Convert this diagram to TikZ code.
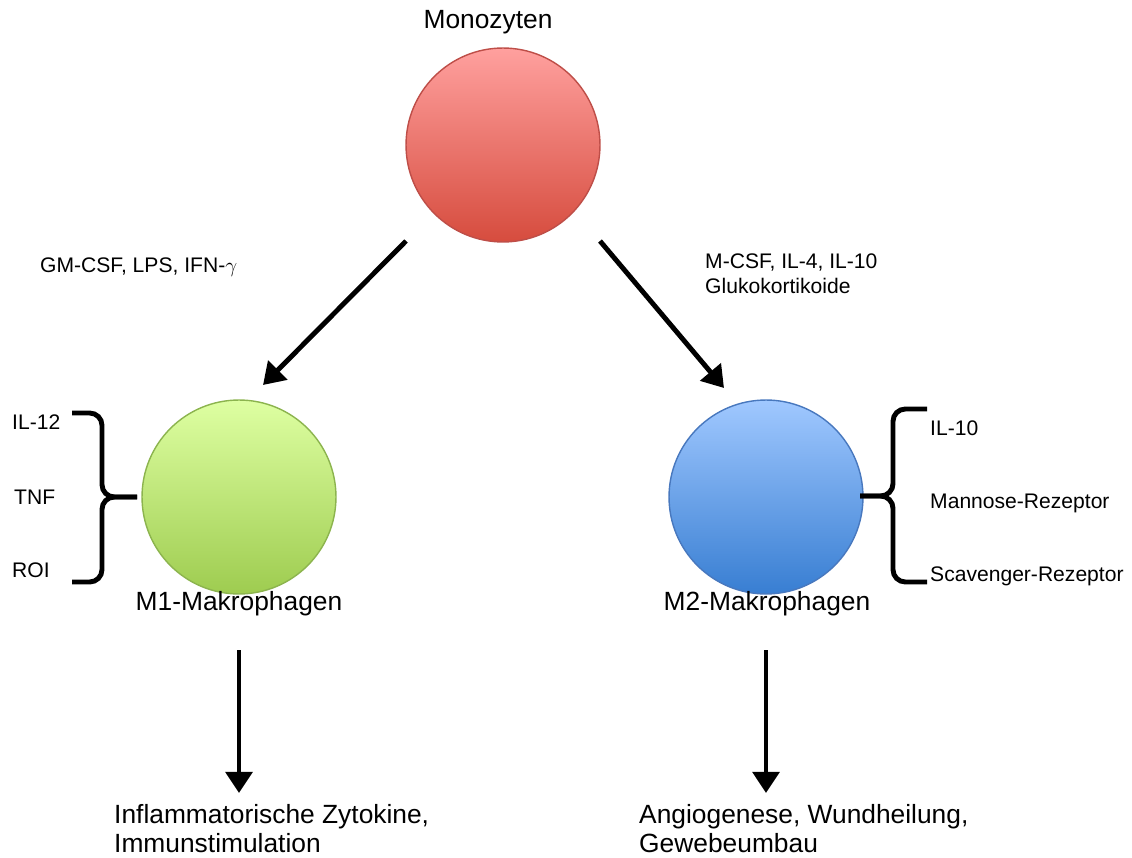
\documentclass[tikz,border=0pt]{standalone}
\usepackage{fontspec}
\setmainfont{Liberation Sans}
\usetikzlibrary{arrows.meta,positioning}
\definecolor{redtop}{RGB}{255,160,158}
\definecolor{redbot}{RGB}{214,76,62}
\definecolor{redline}{RGB}{190,78,72}
\definecolor{greentop}{RGB}{222,255,162}
\definecolor{greenbot}{RGB}{158,204,80}
\definecolor{greenline}{RGB}{140,180,78}
\definecolor{bluetop}{RGB}{160,200,255}
\definecolor{bluebot}{RGB}{56,126,210}
\definecolor{blueline}{RGB}{72,120,190}
\begin{document}
\begin{tikzpicture}[x=0.02cm,y=-0.02cm,
  cell/.style={circle,minimum size=3.88cm,inner sep=0pt,draw,line width=0.8pt},
  small/.style={font=\fontsize{12}{14.2}\selectfont,align=left},
  big/.style={font=\fontsize{15}{16.5}\selectfont,align=left},
  arr/.style={-{Triangle[length=12pt,width=15pt]},line width=2.8pt},
  brace/.style={line width=2.8pt,rounded corners=7pt}]
  \useasboundingbox (0,0) rectangle (1132,858);
  % Zellen
  \node [cell,draw=redline,top color=redtop,bottom color=redbot] (mono) at (503,145) {};
  \node [cell,draw=greenline,top color=greentop,bottom color=greenbot] (m1) at (239,497) {};
  \node [cell,draw=blueline,top color=bluetop,bottom color=bluebot] (m2) at (766,497) {};
  \node [big] (monotxt) at (488,22) {Monozyten};
  \node [big] (m1txt) at (239,604) {M1-Makrophagen};
  \node [big] (m2txt) at (767,604) {M2-Makrophagen};
  \node [small,anchor=west] (m1stim) at (34,267) {GM-CSF, LPS, IFN-$\gamma$};
  \node [small,anchor=west] (m2stim) at (699,274) {M-CSF, IL-4, IL-10\\Glukokortikoide};
  \node [small,anchor=west] (il12) at (6,422) {IL-12};
  \node [small,anchor=west] (tnf) at (8,497) {TNF};
  \node [small,anchor=west] (roi) at (6,570) {ROI};
  \node [small,anchor=west] (il10) at (924,428) {IL-10};
  \node [small,anchor=west] (mann) at (924,503) {Mannose-Rezeptor};
  \node [small,anchor=west] (scav) at (924,576) {Scavenger-Rezeptor};
  \node [big,anchor=west] (m1out) at (108,829) {Inflammatorische Zytokine,\\Immunstimulation};
  \node [big,anchor=west] (m2out) at (633,829) {Angiogenese, Wundheilung,\\Gewebeumbau};

  \draw [arr] ([shift={(-97,96)}]mono.center) -- ([shift={(24,-112)}]m1.center);
  \draw [arr] ([shift={(97,96)}]mono.center) -- ([shift={(-42,-109)}]m2.center);
  \draw [arr] ([shift={(0,153)}]m1.center) -- ([shift={(0,296)}]m1.center);
  \draw [arr] ([shift={(0,153)}]m2.center) -- ([shift={(0,296)}]m2.center);

  \draw [brace] (72,413) -- (102,413) -- (102,497) -- (137,497);
  \draw [brace] (72,582) -- (102,582) -- (102,497) -- (137,497);
  \draw [brace] (927,409) -- (893,409) -- (893,496) -- (860,496);
  \draw [brace] (927,582) -- (893,582) -- (893,496) -- (860,496);
\end{tikzpicture}
\end{document}
